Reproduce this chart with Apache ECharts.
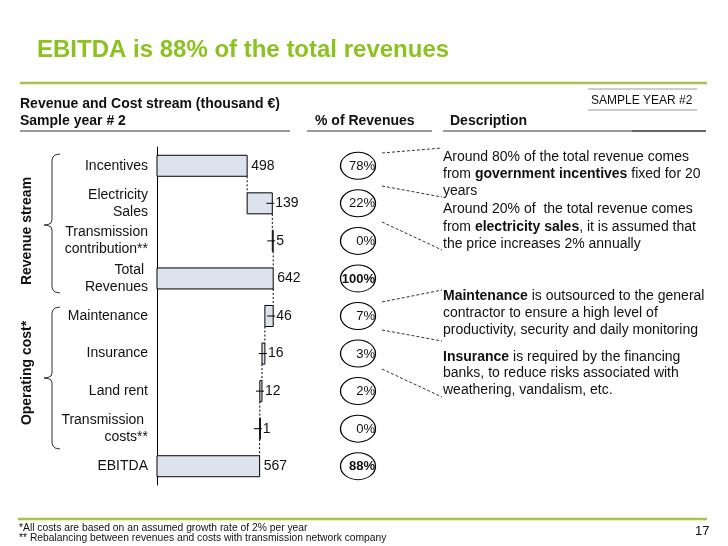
<!DOCTYPE html>
<html><head><meta charset="utf-8">
<script src="https://cdn.jsdelivr.net/npm/echarts@6/dist/echarts.min.js"></script>
<style>html,body{margin:0;padding:0;background:#fff}#c{width:728px;height:546px}</style>
</head><body><div id="c"></div>
<script>
// ---- data ----
const categories = ['Incentives','Electricity\nSales','Transmission\ncontribution**','Total \nRevenues','Maintenance','Insurance','Land rent','Transmission \ncosts**','EBITDA'];
const values = [498, 139, 5, 642, 46, 16, 12, 1, 567];
const kinds = ['rev','rev','rev','total','cost','cost','cost','cost','total'];
const percents = [78, 22, 0, 100, 7, 3, 2, 0, 88];

const FONT = '"Liberation Sans", Arial, Helvetica, sans-serif';
const TXT = '#111';

// build waterfall rows from the values
let level = 0;
const rows = values.map((v, i) => {
  let s, e;
  if (kinds[i] === 'rev') { s = level; e = level + v; level = e; }
  else if (kinds[i] === 'total') { s = 0; e = v; level = v; }
  else { e = level; s = level - v; level = s; }
  const next = i < values.length - 1 ? level : -1;
  const tick = (kinds[i] !== 'total' && s !== 0) ? 1 : 0;
  return [i, s, e, next, tick, v];
});

function renderItem(params, api) {
  const i = api.value(0), s = api.value(1), e = api.value(2), nl = api.value(3), tk = api.value(4), v = api.value(5);
  const a = api.coord([s, i]), b = api.coord([e, i]);
  const h = 21;
  const ch = [{
    type: 'rect',
    shape: { x: a[0], y: a[1] - h / 2, width: Math.max(b[0] - a[0], 0.8), height: h },
    style: { fill: '#dde3ee', stroke: '#000', lineWidth: 1 }
  }];
  if (nl >= 0) {
    const c = api.coord([nl, i]), d = api.coord([nl, i + 1]);
    ch.push({ type: 'line', shape: { x1: c[0], y1: a[1] + h / 2, x2: d[0], y2: d[1] - h / 2 },
      style: { stroke: '#000', lineWidth: 1, lineDash: [2, 2] } });
  }
  if (tk) {
    ch.push({ type: 'line', shape: { x1: b[0] - 6, y1: b[1], x2: b[0] + 2, y2: b[1] },
      style: { stroke: '#000', lineWidth: 1 } });
  }
  ch.push({ type: 'text', x: b[0] + (tk ? 3 : 4), y: b[1],
    style: { text: String(v), fill: TXT, fontSize: 14, fontFamily: FONT, align: 'left', verticalAlign: 'middle' } });
  return { type: 'group', children: ch };
}

// percentage ellipses
function renderPct(params, api) {
  const i = api.value(1), p = api.value(2), bold = api.value(3);
  const c = api.coord([0.5, i]);
  return { type: 'group', children: [
    { type: 'circle', x: c[0], y: c[1], scaleX: 35 / 27, scaleY: 1,
      shape: { cx: 0, cy: 0, r: 13.5 }, style: { fill: null, stroke: '#000', lineWidth: 1, strokeNoScale: true } },
    { type: 'text', x: c[0] + 17, y: c[1] + 0.5,
      style: { text: p + '%', fill: TXT, fontSize: 13, fontWeight: bold ? 'bold' : 'normal', fontFamily: FONT, align: 'right', verticalAlign: 'middle' } }
  ] };
}

// ---- decoration helpers ----
function ln(x1, y1, x2, y2, color, w, dash) {
  return { type: 'line', silent: true, shape: { x1, y1, x2, y2 },
    style: { stroke: color, lineWidth: w, lineDash: dash || null } };
}
function tx(x, y, text, size, weight, color) {
  return { type: 'text', silent: true, x, y,
    style: { text, fontSize: size, fontWeight: weight || 'normal', fill: color || TXT, fontFamily: FONT, align: 'left', verticalAlign: 'middle' } };
}
function rich(x, y, text) {
  return { type: 'text', silent: true, x, y,
    style: { text, fontSize: 14, fill: TXT, fontFamily: FONT, align: 'left', verticalAlign: 'middle',
      rich: { n: { fontSize: 14, fontFamily: FONT, fill: TXT, color: TXT },
              b: { fontSize: 14, fontFamily: FONT, fontWeight: 'bold', fill: TXT, color: TXT } } } };
}
function bracket(x, top, mid, bot) {
  return { type: 'polyline', silent: true,
    shape: { points: [[x + 8, top], [x + 3, top + 1], [x + 1, top + 3], [x, top + 6], [x, mid - 5], [x - 1, mid - 2], [x - 4, mid - 0.5], [x - 8, mid],
      [x - 4, mid + 0.5], [x - 1, mid + 2], [x, mid + 5], [x, bot - 6], [x + 1, bot - 3], [x + 3, bot - 1], [x + 8, bot]] },
    style: { fill: null, stroke: '#333', lineWidth: 1 } };
}
function vtext(x, y, text) {
  return { type: 'text', silent: true, x, y, rotation: Math.PI / 2,
    style: { text, fontSize: 14, fontWeight: 'bold', fill: TXT, fontFamily: FONT, align: 'center', verticalAlign: 'middle' } };
}

const GREEN = '#a6c34c';
const GRAY = '#9a9a9a';
const DASH = [3, 2];

const graphics = [
  tx(37, 50, 'EBITDA is 88% of the total revenues', 24, 'bold', '#8cc21f'),
  ln(20, 83, 707, 83, GREEN, 2.5),
  tx(20, 104, 'Revenue and Cost stream (thousand €)', 14, 'bold'),
  tx(20, 121, 'Sample year # 2', 14, 'bold'),
  tx(315, 121, '% of Revenues', 14, 'bold'),
  tx(450, 121, 'Description', 14, 'bold'),
  ln(20, 131, 290, 131, GRAY, 2),
  ln(307, 131, 432, 131, GRAY, 2),
  ln(443, 131, 706, 131, GRAY, 2),
  ln(632, 131, 706, 131, '#666', 2),
  ln(588, 89, 697, 89, GRAY, 1),
  ln(588, 110, 697, 110, GRAY, 1),
  tx(591, 101, 'SAMPLE YEAR #2', 12, 'normal'),
  bracket(52, 154, 225, 293),
  bracket(52, 307, 378, 449),
  vtext(27, 231, 'Revenue stream'),
  vtext(27, 373, 'Operating cost*'),
  // descriptions
  rich(443, 157, '{n|Around 80% of the total revenue comes}'),
  rich(443, 174, '{n|from }{b|government incentives}{n| fixed for 20}'),
  rich(443, 191, '{n|years}'),
  rich(443, 209, '{n|Around 20% of  the total revenue comes}'),
  rich(443, 227, '{n|from }{b|electricity sales}{n|, it is assumed that}'),
  rich(443, 244, '{n|the price increases 2% annually}'),
  rich(443, 296, '{b|Maintenance}{n| is outsourced to the general}'),
  rich(443, 313, '{n|contractor to ensure a high level of}'),
  rich(443, 330, '{n|productivity, security and daily monitoring}'),
  rich(443, 357, '{b|Insurance}{n| is required by the financing}'),
  rich(443, 373, '{n|banks, to reduce risks associated with}'),
  rich(443, 390, '{n|weathering, vandalism, etc.}'),
  // dashed connectors
  ln(382, 153, 442, 148, '#333', 1, DASH),
  ln(382, 186, 442, 197, '#333', 1, DASH),
  ln(382, 222, 442, 250, '#333', 1, DASH),
  ln(382, 302, 442, 290, '#333', 1, DASH),
  ln(382, 330, 442, 341, '#333', 1, DASH),
  ln(382, 369, 442, 397, '#333', 1, DASH),
  // footer
  ln(18, 519, 707, 519, GREEN, 2.5),
  tx(19, 528, '*All costs are based on an assumed growth rate of 2% per year', 10.3, 'normal'),
  tx(19, 538.5, '** Rebalancing between revenues and costs with transmission network company', 10.3, 'normal'),
  tx(695, 531, '17', 13, 'normal')
];

const pctRows = percents.map((p, i) => [0.5, i, p, kinds[i] === 'total' ? 1 : 0]);

const chart = echarts.init(document.getElementById('c'));
chart.setOption({
  animation: false,
  backgroundColor: '#fff',
  grid: [
    { left: 157, top: 147, width: 181, height: 338 },
    { left: 340, top: 147, width: 36, height: 338 }
  ],
  xAxis: [
    { type: 'value', gridIndex: 0, min: 0, max: 1000, show: false },
    { type: 'value', gridIndex: 1, min: 0, max: 1, show: false }
  ],
  yAxis: [
    { type: 'category', gridIndex: 0, data: categories, inverse: true,
      axisLine: { show: true, lineStyle: { color: '#000', width: 1 } }, axisTick: { show: false },
      axisLabel: { fontSize: 14, color: TXT, fontFamily: FONT, margin: 9, lineHeight: 17 } },
    { type: 'category', gridIndex: 1, data: categories, inverse: true, show: false }
  ],
  series: [
    { type: 'custom', xAxisIndex: 0, yAxisIndex: 0, renderItem, data: rows, silent: true },
    { type: 'custom', xAxisIndex: 1, yAxisIndex: 1, renderItem: renderPct, data: pctRows, silent: true }
  ],
  graphic: graphics
});
</script>
</body></html>
